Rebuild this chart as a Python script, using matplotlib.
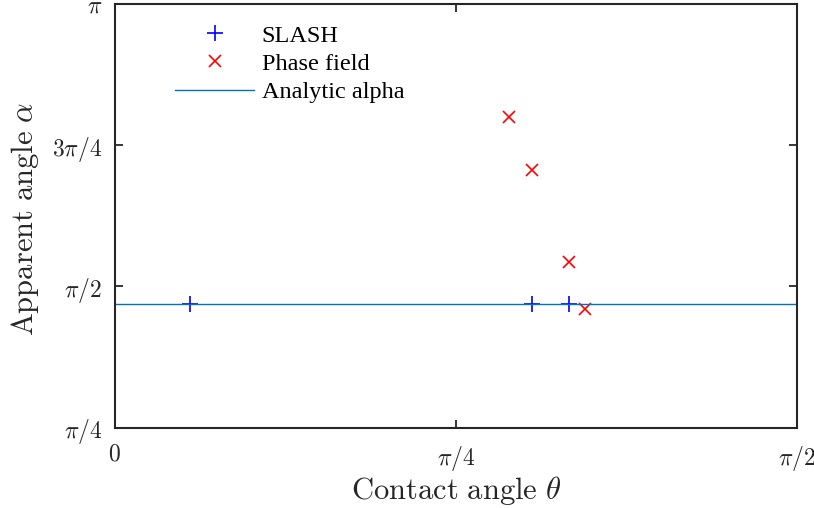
import numpy as np
import matplotlib.pyplot as plt

# data (radians)
slash_theta = np.deg2rad([10, 55, 60])
slash_alpha = [1.471, 1.471, 1.471]
pf_theta = np.deg2rad([52, 55, 60, 62])
pf_alpha = [2.515, 2.219, 1.709, 1.446]
analytic_theta = [0, np.pi / 2]
analytic_alpha = [1.471, 1.471]

xticks = [0, np.pi / 4, np.pi / 2]
xtick_labels = ['$0$', r'$\pi/4$', r'$\pi/2$']
yticks = [np.pi / 4, np.pi / 2, 3 * np.pi / 4, np.pi]
ytick_labels = [r'$\pi/4$', r'$\pi/2$', r'$3\pi/4$', r'$\pi$']

plt.rcParams['mathtext.fontset'] = 'cm'
plt.rcParams['font.family'] = 'Liberation Serif'

fig = plt.figure(figsize=(8.14, 5.08), dpi=100)
ax = fig.add_axes([0.1409, 0.1581, 0.9788 - 0.1409, 0.9921 - 0.1581])

ax.plot(slash_theta, slash_alpha, '+', color='#0000ff', ms=11.5, mew=1.2, label='SLASH')
ax.plot(pf_theta, pf_alpha, 'x', color='#ff0000', ms=8.5, mew=1.2, label='Phase field')
ax.plot(analytic_theta, analytic_alpha, '-', color='#0072BD', lw=1.0, label='Analytic alpha')

ax.set_xlim(0, np.pi / 2)
ax.set_ylim(np.pi / 4, np.pi)
ax.set_xticks(xticks)
ax.set_xticklabels(xtick_labels, fontsize=17)
ax.set_yticks(yticks)
ax.set_yticklabels(ytick_labels, fontsize=17)
ax.tick_params(direction='in', length=6, width=1.3, top=True, right=True,
               colors='#262626', labelcolor='#262626')
ax.tick_params(axis='y', pad=9)
ax.tick_params(axis='x', pad=12)
for s in ax.spines.values():
    s.set_linewidth(1.5)
    s.set_color('#262626')

ax.set_xlabel(r'$\mathrm{Contact\ angle}\ \theta$', fontsize=22, color='#262626')
ax.set_ylabel(r'$\mathrm{Apparent\ angle}\ \alpha$', fontsize=22, color='#262626')
ax.xaxis.set_label_coords(0.5, -0.11)
ax.yaxis.set_label_coords(-0.108, 0.494)

ax.legend(loc='upper left', bbox_to_anchor=(0.057, 1.003), frameon=False,
          fontsize=17.5, handlelength=3.25, handletextpad=0.3, labelspacing=0.26)

fig.savefig('out.png', dpi=100)
